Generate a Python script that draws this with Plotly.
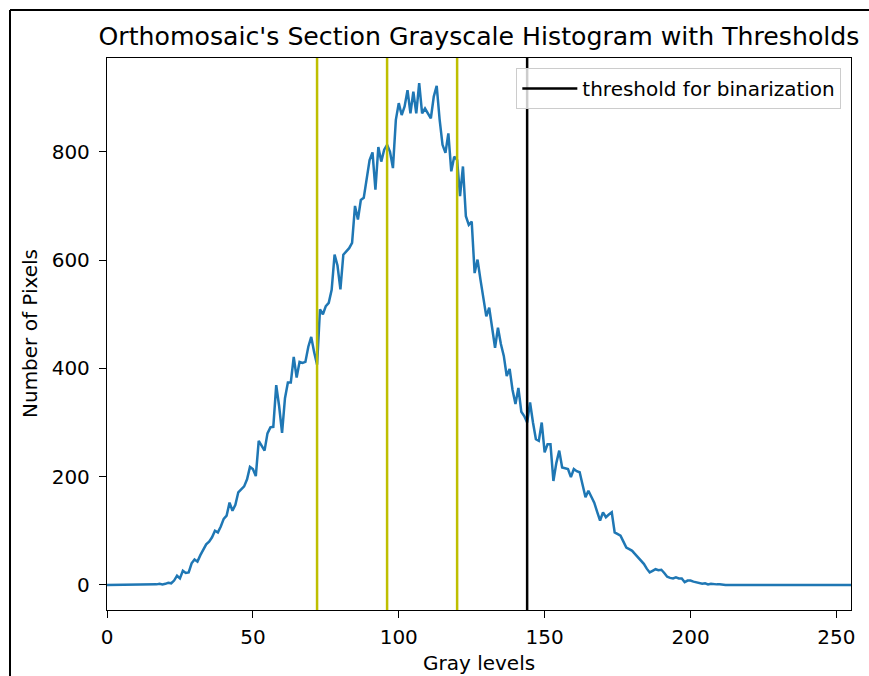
import plotly.graph_objects as go

# Gray levels 0..255
gray_levels = list(range(256))

# Pixel counts per gray level
pixel_counts = (
    [0] * 14 +
    [0, 1, 0, 1, 2, 1, 2, 4, 3, 8,            # 14-23
     17, 12, 26, 22, 23, 40, 47, 43, 55, 66,  # 24-33
     75, 80, 88, 100, 97, 108, 122, 128, 152, 137,  # 34-43
     148, 171, 176, 182, 195, 218, 214, 201, 266, 258,  # 44-53
     248, 280, 291, 292, 369, 330, 281, 345, 374, 374,  # 54-63
     421, 383, 412, 410, 412, 440, 458, 430, 407, 509,  # 64-73
     500, 515, 521, 545, 610, 590, 546, 610, 616, 622,  # 74-83
     632, 700, 675, 711, 715, 750, 785, 799, 730, 809,  # 84-93
     782, 804, 813, 800, 770, 859, 890, 868, 884, 914,  # 94-103
     871, 911, 871, 927, 871, 880, 870, 862, 902, 922,  # 104-113
     860, 813, 798, 834, 764, 791, 785, 718, 773, 681,  # 114-123
     665, 671, 576, 601, 564, 533, 496, 512, 470, 438,  # 124-133
     475, 445, 423, 386, 399, 360, 334, 364, 320, 312,  # 134-143
     300, 337, 300, 269, 266, 300, 245, 260, 260, 192,  # 144-153
     225, 248, 217, 215, 214, 199, 214, 210, 208, 185,  # 154-163
     162, 174, 162, 152, 135, 119, 134, 125, 130, 134,  # 164-173
     97, 94, 91, 80, 69, 66, 63, 57, 51, 45,  # 174-183
     39, 30, 23, 26, 29, 27, 28, 22, 15, 13,  # 184-193
     12, 14, 12, 12, 5, 8, 8, 6, 5, 4,  # 194-203
     2, 3, 1, 2, 1, 1, 1] +  # 204-210
    [0] * 45
)

section_thresholds = [72, 96, 120]
binarization_threshold = 144

title_text = "Orthomosaic's Section Grayscale Histogram with Thresholds"
x_label = "Gray levels"
y_label = "Number of Pixels"
legend_label = "threshold for binarization"
x_ticks = [0, 50, 100, 150, 200, 250]
y_ticks = [0, 200, 400, 600, 800]

ymax = max(pixel_counts)
pad = 0.05 * ymax
y_range = [-pad, ymax + pad]

fig = go.Figure()
fig.add_trace(go.Scatter(
    x=gray_levels, y=pixel_counts, mode="lines",
    line=dict(color="#1f77b4", width=2.5), showlegend=False,
    hoverinfo="skip",
))
for t in section_thresholds:
    fig.add_trace(go.Scatter(
        x=[t, t], y=y_range, mode="lines",
        line=dict(color="#bfbf00", width=2.5), showlegend=False,
    ))
fig.add_trace(go.Scatter(
    x=[binarization_threshold, binarization_threshold], y=y_range, mode="lines",
    line=dict(color="black", width=2.5), name=legend_label, showlegend=True,
))

font_family = "DejaVu Sans"
fs = 20
fig.update_layout(
    width=869, height=676,
    margin=dict(l=107, r=18, t=58, b=66),
    paper_bgcolor="white", plot_bgcolor="white",
    font=dict(family=font_family, size=fs, color="black"),
    title=dict(text=title_text, x=0.5, xref="paper", xanchor="center",
               y=1 - 36 / 676, yref="container", yanchor="middle",
               font=dict(family=font_family, size=25.2, color="black")),
    showlegend=True,
    legend=dict(x=0.987, xanchor="right", y=0.982, yanchor="top",
                bgcolor="rgba(255,255,255,0.8)", bordercolor="#cccccc",
                borderwidth=1, font=dict(family=font_family, size=fs),
                itemwidth=55, tracegroupgap=0),
    xaxis=dict(range=[0, 255], tickvals=x_ticks, ticks="outside", ticklen=7,
               tickwidth=1.3, tickcolor="black", showline=True, linecolor="black",
               linewidth=1.3, mirror=True, showgrid=False, zeroline=False,
               ticklabelstandoff=2,
               tickfont=dict(family=font_family, size=fs)),
    yaxis=dict(range=y_range, tickvals=y_ticks, ticks="outside", ticklen=7,
               tickwidth=1.3, tickcolor="black", showline=True, linecolor="black",
               linewidth=1.3, mirror=True, showgrid=False, zeroline=False,
               ticklabelstandoff=5,
               tickfont=dict(family=font_family, size=fs)),
    annotations=[
        dict(text=x_label, xref="paper", yref="paper", x=0.5, y=-(663 - 610) / 552,
             xanchor="center", yanchor="middle", showarrow=False,
             font=dict(family=font_family, size=fs)),
        dict(text=y_label, xref="paper", yref="paper", x=(30 - 107) / 744, y=0.5,
             xanchor="center", yanchor="middle", showarrow=False, textangle=-90,
             font=dict(family=font_family, size=fs)),
    ],
    shapes=[
        dict(type="line", xref="paper", yref="paper",
             x0=(10 - 107) / 744, x1=(869 - 107) / 744 + 0.01,
             y0=1 + (58 - 10) / 552, y1=1 + (58 - 10) / 552,
             line=dict(color="black", width=2)),
        dict(type="line", xref="paper", yref="paper",
             x0=(10 - 107) / 744, x1=(10 - 107) / 744,
             y0=1 + (58 - 10) / 552, y1=-(676 - 610) / 552 - 0.01,
             line=dict(color="black", width=2)),
    ],
)

fig.write_html("out.html")
